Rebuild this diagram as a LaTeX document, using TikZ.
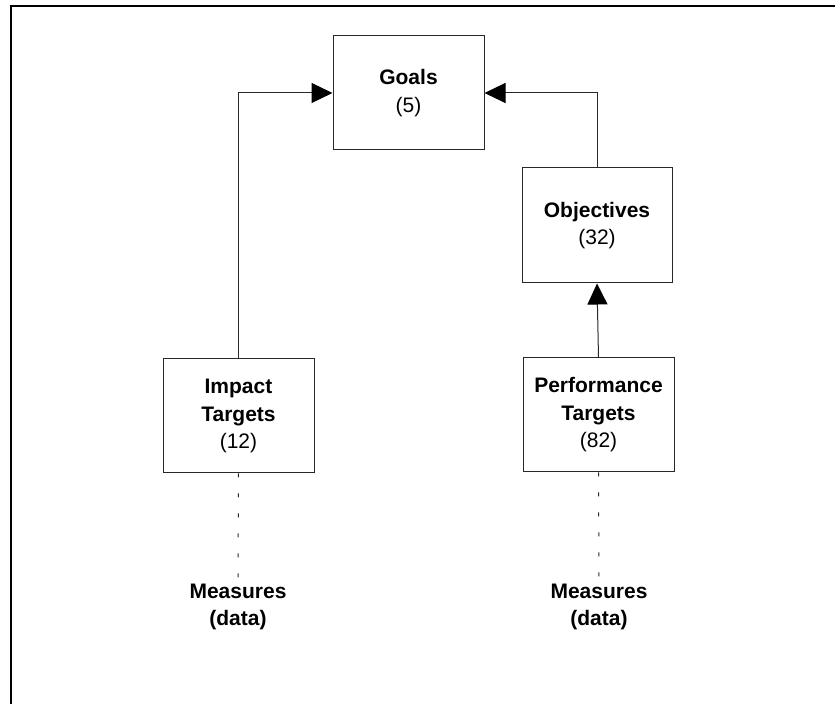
\documentclass[tikz,border=0pt]{standalone}
\usepackage{fontspec}
\setmainfont{Liberation Sans}
\usepackage{tikz}
\usetikzlibrary{arrows.meta, positioning}
\usepackage{xcolor}
\definecolor{lineGray}{RGB}{40,40,40}

\begin{document}
\begin{tikzpicture}[x=1pt, y=1pt,
    box/.style={draw=lineGray, line width=1pt, rectangle, minimum width=151pt, minimum height=114pt,
        align=center, font=\fontsize{21}{27.5}\selectfont},
    measure/.style={align=center, font=\fontsize{21}{27.5}\selectfont\bfseries, inner sep=2pt},
    link/.style={draw=lineGray, line width=1pt, -{Triangle[length=21pt, width=20pt, black]}},
    dotlink/.style={draw=lineGray, line width=1pt, dash pattern=on 4pt off 16pt}]
            \useasboundingbox (0,0) rectangle (835,704);
            % --- Cadre (haut et gauche) ---
            \draw[line width=2.2pt] (11,0) -- (11,698) -- (835,698);

            % --- Boites ---
            \node[box] (goals) at (408.5,611) {\textbf{Goals}\\(5)};
            \node[box, minimum width=150pt, minimum height=115pt] (objectives) at (597,478.5) {\textbf{Objectives}\\(32)};
            \node[box] (impact) at (238.5,288) {\textbf{Impact}\\\textbf{Targets}\\(12)};
            \node[box] (performance) at (598.5,289) {\textbf{Performance}\\\textbf{Targets}\\(82)};

            % Measures
            \node[measure] (measImpact) at (238,97) {Measures\\(data)};
            \node[measure] (measPerf) at (599,97) {Measures\\(data)};

            % --- Fleches ---
            \draw[link] (impact.north) |- (goals.west);
            \draw[link] (objectives.north) |- (goals.east);
            \draw[link] (performance.north) -- (objectives.south);

            % Pointilles vers les mesures
            \draw[dotlink] (impact.south) -- (measImpact.north);
            \draw[dotlink] (performance.south) -- (measPerf.north);
        \end{tikzpicture}
\end{document}
